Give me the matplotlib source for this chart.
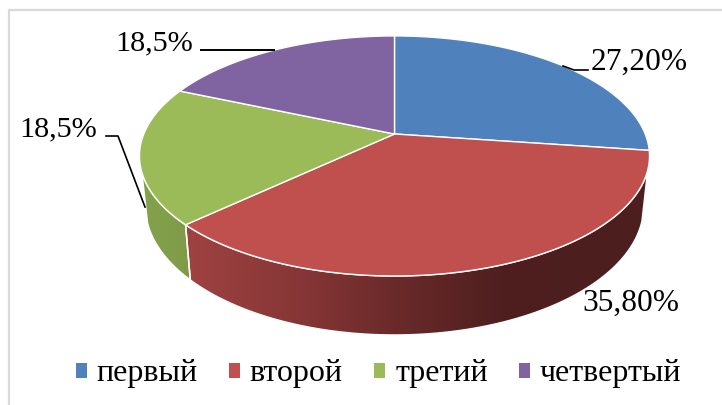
import matplotlib
matplotlib.use("Agg")
import matplotlib.pyplot as plt
from matplotlib.patches import Patch, Polygon
import numpy as np

labels = ["первый", "второй", "третий", "четвертый"]
shares = [27.2, 35.8, 18.5, 18.5]
colors = ["#4F81BD", "#C0504D", "#9BBB59", "#8064A2"]

plt.rcParams["font.family"] = ["Liberation Serif", "DejaVu Serif"]

W, H = 722, 405
CX, CY = 394.5, 134
TILT = -0.183
EDGE = "#FFFFFF"


def project(deg, r=250.7, s=116.0, y0=CY):
    # clockwise from 12 o'clock, circle seen in perspective
    t = np.radians(deg)
    px = np.sin(t)
    py = -np.cos(t)
    w = 1 + TILT * py
    return np.column_stack([CX + r * px / w, y0 + s * py / w])


def wall(a, b):
    t = np.linspace(a, b, 80)
    top = project(t)
    low = project(t[::-1], r=245.0, s=124.6, y0=182.5)
    return np.vstack([top, low])


def gradient_wall(ax, pts, xs, cols):
    # horizontal shading clipped to the wall shape
    x = np.arange(0, W)
    rgb = np.array([matplotlib.colors.to_rgb(c) for c in cols])
    row = np.column_stack([np.interp(x, xs, rgb[:, i]) for i in range(3)])
    im = ax.imshow(row[np.newaxis, :, :], extent=(0, W, H, 0), aspect="auto",
                   zorder=2, interpolation="bilinear")
    poly = Polygon(pts, closed=True, facecolor="none", edgecolor=EDGE, lw=1.1, zorder=3)
    ax.add_patch(poly)
    im.set_clip_path(poly)


fig = plt.figure(figsize=(W / 100, H / 100), dpi=100)
ax = fig.add_axes([0, 0, 1, 1])
ax.axis("off")

# chart frame, only left and top show in the crop
ax.plot([9, 9, W], [H, 10, 10], color="#D9D9D9", lw=1.6, zorder=1)

ends = np.cumsum(shares) * 3.6
starts = np.concatenate([[0], ends[:-1]])

# side walls that face the viewer
gradient_wall(ax, wall(107, ends[1]),
              [185, 300, 394, 500, 650],
              ["#A04242", "#863636", "#6B2A2A", "#4F1F1F", "#4C1E1E"])
gradient_wall(ax, wall(ends[1], 252),
              [140, 190], ["#84A24C", "#7F9B48"])

for a, b, c in zip(starts, ends, colors):
    arc = project(np.linspace(a, b, 120))
    pts = np.vstack([[CX, CY], arc])
    ax.add_patch(Polygon(pts, closed=True, facecolor=c, edgecolor=EDGE, lw=1.0,
                         joinstyle="round", zorder=4))

# value labels with leader lines
ax.plot([563, 574, 588], [66, 70, 70], color="black", lw=1.2, zorder=5)
ax.plot([201, 274], [50, 50], color="black", lw=1.4, zorder=5)
ax.plot([106, 118, 145], [136, 136, 207], color="black", lw=1.2, zorder=5)
ax.text(591, 70, f"{shares[0]:.2f}".replace(".", ",") + "%", fontsize=22.6, va="baseline", zorder=6)
ax.text(582, 311, f"{shares[1]:.2f}".replace(".", ",") + "%", fontsize=22.6, va="baseline", zorder=6)
ax.text(19, 136, f"{shares[2]:.1f}".replace(".", ",") + "%", fontsize=21.8, va="baseline", zorder=6)
ax.text(115, 50, f"{shares[3]:.1f}".replace(".", ",") + "%", fontsize=21.8, va="baseline", zorder=6)

handles = [Patch(facecolor=c, edgecolor="none") for c in colors]
ax.legend(handles, labels, ncol=4, frameon=False, fontsize=23,
          loc="center", bbox_to_anchor=(378.5 / W, 1 - 374 / H),
          handlelength=0.345, handleheight=0.345, handletextpad=0.31,
          columnspacing=0.98, borderpad=0, borderaxespad=0)

ax.set_xlim(0, W)
ax.set_ylim(H, 0)
fig.savefig("out.png", dpi=100)
